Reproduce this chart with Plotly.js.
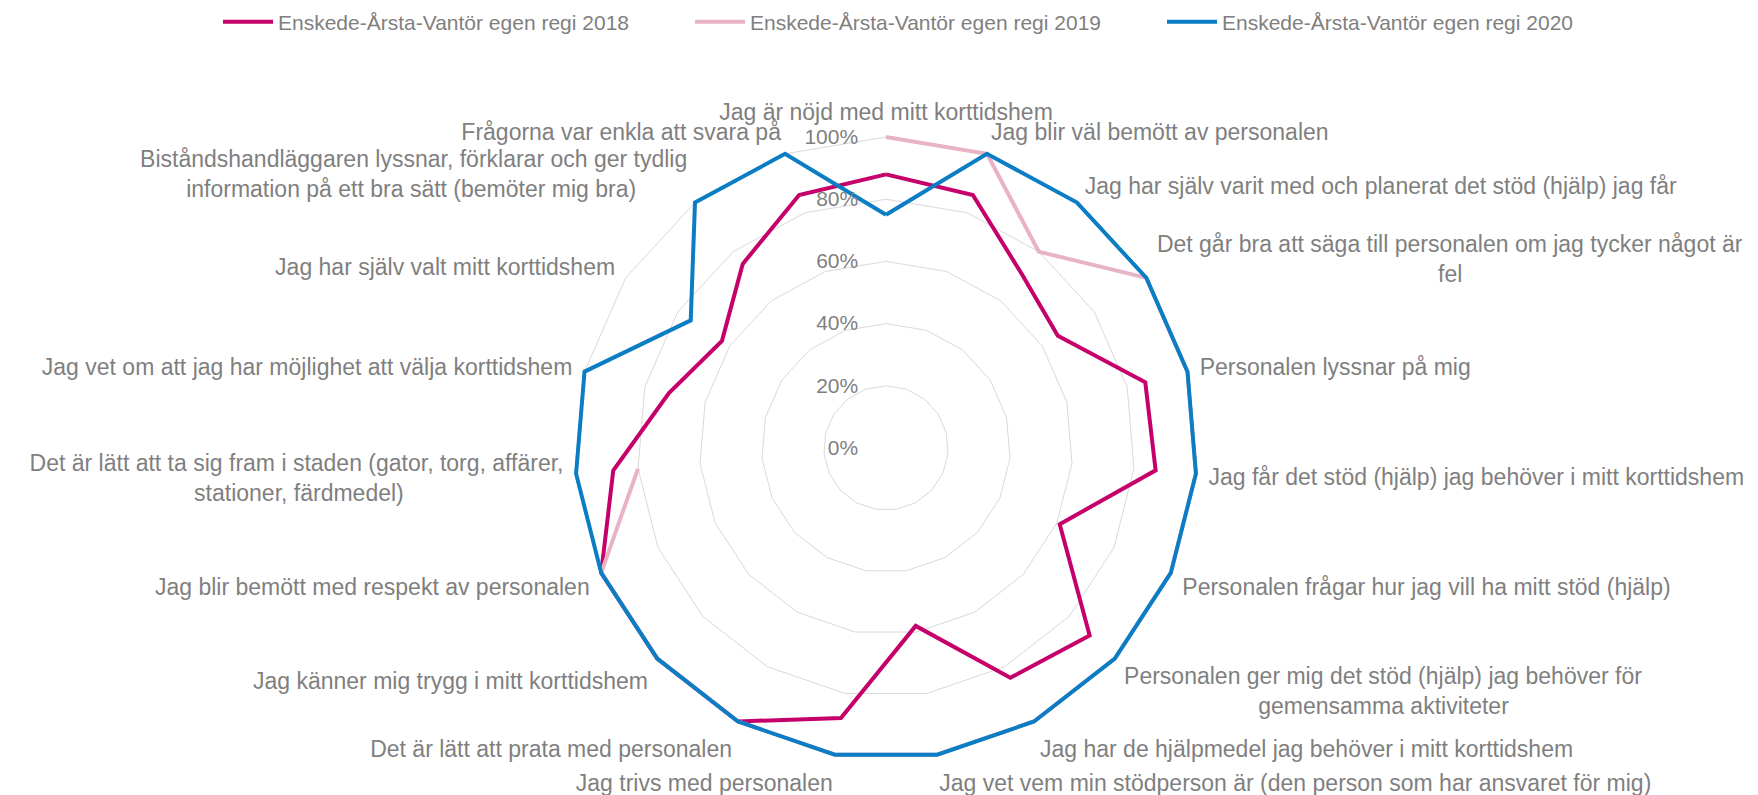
<!DOCTYPE html>
<html>
<head>
<meta charset="utf-8">
<script src="https://cdn.plot.ly/plotly-3.0.1.min.js"></script>
<style>
  html, body { margin: 0; padding: 0; background: #ffffff; }
  #chart { width: 1758px; height: 795px; }
</style>
</head>
<body>
<div id="chart"></div>
<script>
// Categories, clockwise from the top ("\n" marks a line break in the label)
const categories = [
  "Jag är nöjd med mitt korttidshem",
  "Jag blir väl bemött av personalen",
  "Jag har själv varit med och planerat det stöd (hjälp) jag får",
  "Det går bra att säga till personalen om jag tycker något är\nfel",
  "Personalen lyssnar på mig",
  "Jag får det stöd (hjälp) jag behöver i mitt korttidshem",
  "Personalen frågar hur jag vill ha mitt stöd (hjälp)",
  "Personalen ger mig det stöd (hjälp) jag behöver för\ngemensamma aktiviteter",
  "Jag har de hjälpmedel jag behöver i mitt korttidshem",
  "Jag vet vem min stödperson är (den person som har ansvaret för mig)",
  "Jag trivs med personalen",
  "Det är lätt att prata med personalen",
  "Jag känner mig trygg i mitt korttidshem",
  "Jag blir bemött med respekt av personalen",
  "Det är lätt att ta sig fram i staden (gator, torg, affärer,\nstationer, färdmedel)",
  "Jag vet om att jag har möjlighet att välja korttidshem",
  "Jag har själv valt mitt korttidshem",
  "Biståndshandläggaren lyssnar, förklarar och ger tydlig\ninformation på ett bra sätt (bemöter mig bra)",
  "Frågorna var enkla att svara på"
];

const seriesNames = [
  "Enskede-Årsta-Vantör egen regi 2018",
  "Enskede-Årsta-Vantör egen regi 2019",
  "Enskede-Årsta-Vantör egen regi 2020"
];

// Values in percent
const values2018 = [88, 86, 71, 66, 86, 87, 61, 89, 84, 58, 88, 100, 100, 100, 88, 72, 63, 75, 86];
const values2019 = [100, 100, 80, 100, 100, 100, 100, 100, 100, 100, 100, 100, 100, 100, 80, null, null, null, null];
const values2020 = [75, 100, 100, 100, 100, 100, 100, 100, 100, 100, 100, 100, 100, 100, 100, 100, 75, 100, 100];

const radialTicks = [0, 20, 40, 60, 80, 100];

const colors = ["#C6006A", "#E8B3C6", "#0A7DC4"];
const greyText = "#7F7F7F";
const gridColor = "#D9D9D9";
const fontFamily = "'Liberation Sans', Arial, sans-serif";
const labelSize = 23;

// Centre the second line of two-line labels under the first (as in the
// original chart) by padding it with no-break spaces.
const ctx = document.createElement("canvas").getContext("2d");
ctx.font = labelSize + "px 'Liberation Sans', Arial, sans-serif";
const nbsp = "\u00A0";
const nbspW = ctx.measureText(nbsp).width || labelSize * 0.278;
const n = categories.length;
const thetaLabels = categories.map((c, i) => {
  const lines = c.split("\n");
  if (lines.length < 2) return c;
  const w0 = ctx.measureText(lines[0]).width;
  const w1 = ctx.measureText(lines[1]).width;
  const k = Math.max(0, Math.round((w0 - w1) / 2 / nbspW));
  const pad = nbsp.repeat(k);
  const rightSide = Math.sin(2 * Math.PI * i / n) > 0;
  const second = rightSide ? pad + lines[1] : lines[1] + pad;
  return lines[0] + "<br>" + second;
});

function closed(arr) { return arr.concat([arr[0]]); }

const traces = [
  {
    type: "scatterpolar", mode: "lines", name: seriesNames[0],
    theta: closed(thetaLabels), r: closed(values2018),
    line: { color: colors[0], width: 4 }, connectgaps: false
  },
  {
    type: "scatterpolar", mode: "lines", name: seriesNames[1],
    theta: thetaLabels, r: values2019,
    line: { color: colors[1], width: 4 }, connectgaps: false
  },
  {
    type: "scatterpolar", mode: "lines", name: seriesNames[2],
    theta: closed(thetaLabels), r: closed(values2020),
    line: { color: colors[2], width: 4 }, connectgaps: false
  }
];

// radius of 100% ≈ 311 px, centre ≈ (886, 448); range slightly above 100 so
// the 100% lines are not clipped by the polar frame
const rMax = 100.8;
const R = 311 * rMax / 100;
const cx = 886, cy = 448, W = 1758, H = 795;

const layout = {
  width: W, height: H,
  margin: { l: 0, r: 0, t: 0, b: 0, autoexpand: false },
  paper_bgcolor: "#ffffff",
  font: { family: fontFamily, color: greyText },
  showlegend: true,
  legend: {
    orientation: "h",
    x: 218 / W, xanchor: "left",
    y: 1 - 22 / H, yanchor: "middle",
    font: { size: 21, color: greyText, family: fontFamily },
    itemwidth: 50,
    entrywidth: 407,
    traceorder: "normal"
  },
  polar: {
    domain: { x: [(cx - R) / W, (cx + R) / W], y: [(H - cy - R) / H, (H - cy + R) / H] },
    bgcolor: "#ffffff",
    gridshape: "linear",
    radialaxis: {
      range: [0, rMax],
      tickvals: radialTicks,
      ticktext: radialTicks.map(v => v + "%"),
      angle: 90,
      tickangle: 90,
      side: "counterclockwise",
      showline: false,
      ticks: "outside",
      ticklen: 20,
      tickcolor: "rgba(0,0,0,0)",
      showgrid: true,
      gridcolor: gridColor,
      gridwidth: 1,
      tickfont: { size: 21, color: greyText, family: fontFamily }
    },
    angularaxis: {
      type: "category",
      categoryarray: thetaLabels,
      direction: "clockwise",
      rotation: 90,
      showgrid: false,
      showline: false,
      ticks: "outside",
      ticklen: 5,
      tickcolor: "rgba(0,0,0,0)",
      tickfont: { size: labelSize, color: greyText, family: fontFamily }
    }
  }
};

Plotly.newPlot("chart", traces, layout, { displayModeBar: false, staticPlot: true });
</script>
</body>
</html>
